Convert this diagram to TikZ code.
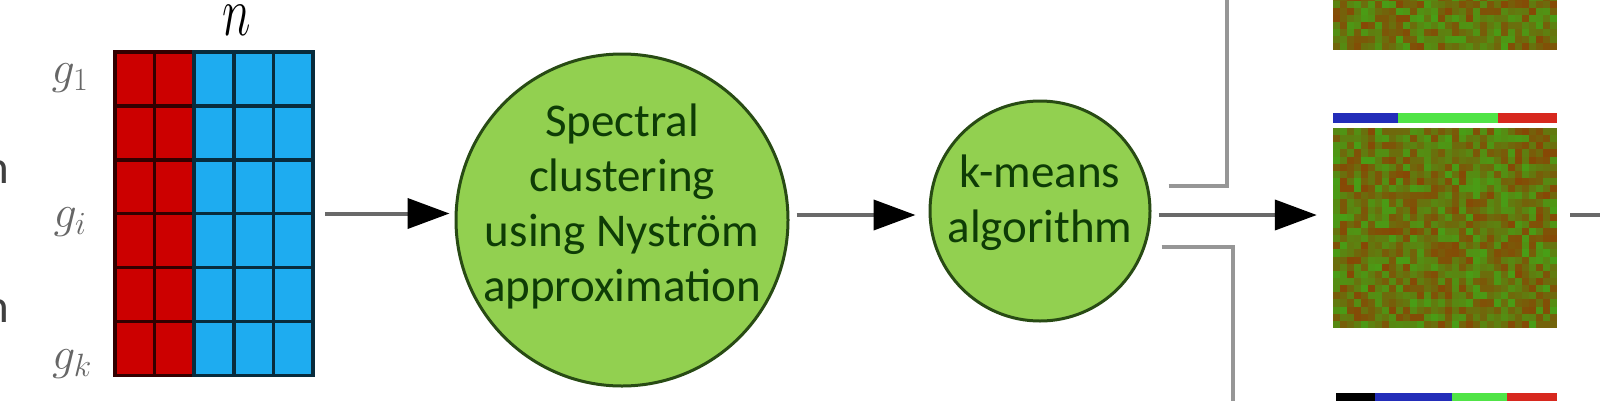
\RequirePackage{fix-cm}
\documentclass[tikz,border=0pt]{standalone}
\usepackage{fontspec}
\setsansfont{Carlito}
\usetikzlibrary{arrows.meta,calc,positioning}

\definecolor{matred}{RGB}{204,0,0}
\definecolor{matblue}{RGB}{30,172,240}
\definecolor{bubfill}{RGB}{146,208,80}
\definecolor{bubline}{RGB}{40,75,20}
\definecolor{txtgreen}{RGB}{14,60,6}
\definecolor{hmgreen}{RGB}{72,158,22}
\definecolor{hmbrown}{RGB}{135,72,5}
\definecolor{wiregray}{RGB}{105,105,105}
\definecolor{branchgray}{RGB}{150,150,150}
\definecolor{barblue}{RGB}{35,45,185}
\definecolor{bargreen}{RGB}{80,228,70}
\definecolor{barred}{RGB}{215,40,30}

\tikzset{
  bubble/.style={circle,fill=bubfill,draw=bubline,line width=3pt,inner sep=0pt},
  bubtxt/.style={font=\sffamily\fontsize{47}{55}\selectfont,text=txtgreen,align=center},
  conn/.style={line width=4pt,draw=wiregray,-{Triangle[length=42pt,width=30pt,color=black]}},
  wire/.style={line width=4pt,draw=branchgray},
  glab/.style={font=\fontsize{46}{46}\selectfont,text=black!60},
  frag/.style={font=\sffamily\fontsize{47}{47}\selectfont,text=black!75,anchor=base east},
}

\begin{document}
\begin{tikzpicture}[x=1pt,y=-1pt]
  \useasboundingbox (0,0) rectangle (1600,400);
  % gene matrix
  \foreach \i/\c in {0/matred,1/matred,2/matblue,3/matblue,4/matblue}{
    \foreach \j in {0,...,5}{
      \fill[\c,draw=\c!25!black,line width=3.5pt] (115+39.6*\i,52+53.9*\j) rectangle ++(39.6,53.9);}}
  \node[inner sep=0pt,minimum width=198pt,minimum height=323pt] (mat) at (214,213.5) {};
  \node[anchor=base,inner sep=0pt] (ncols) at (237,35) {\fontsize{54}{54}\selectfont\scalebox{0.9}[1.3]{$n$}};
  \node[glab] (g1) at (70,78) {$g_1$};
  \node[glab] (gi) at (70,222) {$g_i$};
  \node[glab] (gk) at (72,364) {$g_k$};
  \node[frag] (frag1) at (13,183) {n};
  \node[frag] (frag2) at (13,322) {n};

  % the two steps
  \node[bubble,minimum size=332pt] (spec) at (622,220) {};
  \node[bubtxt] (spectxt) at (622,206) {Spectral\\clustering\\using Nyström\\approximation};
  \node[bubble,minimum size=220pt] (km) at (1040,211) {};
  \node[bubtxt] (kmtxt) at (1040,203) {k-means\\algorithm};

  % heat maps
  \pgfmathsetseed{11}
  \foreach \i in {0,...,31}{
    \foreach \j in {0,...,7}{
      \pgfmathsetmacro\r{int(random(0,100))}
      \fill[hmgreen!\r!hmbrown] (1333+7*\i,-6+7*\j) rectangle ++(7.2,7.2);}}
  \node[inner sep=0pt,minimum width=224pt,minimum height=56pt] (heattop) at (1445,22) {};
  \foreach \i in {0,...,31}{
    \foreach \j in {0,...,27}{
      \pgfmathsetmacro\r{int(random(0,100))}
      \fill[hmgreen!\r!hmbrown] (1333+7*\i,128+7.143*\j) rectangle ++(7.2,7.3);}}
  \node[inner sep=0pt,minimum width=224pt,minimum height=200pt] (heat) at (1445,228) {};
  \fill[barblue] (1333,113) rectangle (1398,123);
  \fill[bargreen] (1398,113) rectangle (1498,123);
  \fill[barred] (1498,113) rectangle (1557,123);
  \fill[black] (1336,393) rectangle (1375,402);
  \fill[barblue] (1375,393) rectangle (1452,402);
  \fill[bargreen] (1452,393) rectangle (1507,402);
  \fill[barred] (1507,393) rectangle (1557,402);

  % connectors
  \coordinate (topend) at (1227,-5);
  \coordinate (botend) at (1233,405);
  \coordinate (out) at (1605,215);
  \coordinate (kout) at ($(km.east)+(7,4)$);
  \draw[conn,shorten <=12pt,shorten >=5pt] (mat.east) -- (mat.east -| spec.west);
  \draw[conn,shorten >=13pt] ($(spec.east)+(7,-5)$) -- ($(km.west)+(0,4)$);
  \draw[conn,shorten >=16pt] (kout) -- (kout -| heat.west);
  \draw[wire] ($(km.east)+(17,-25)$) -| (topend);
  \draw[wire] ($(km.east)+(10,36)$) -| (botend);
  \draw[wire,draw=wiregray] ($(heat.east)+(13,-13)$) -- (out);
\end{tikzpicture}
\end{document}
